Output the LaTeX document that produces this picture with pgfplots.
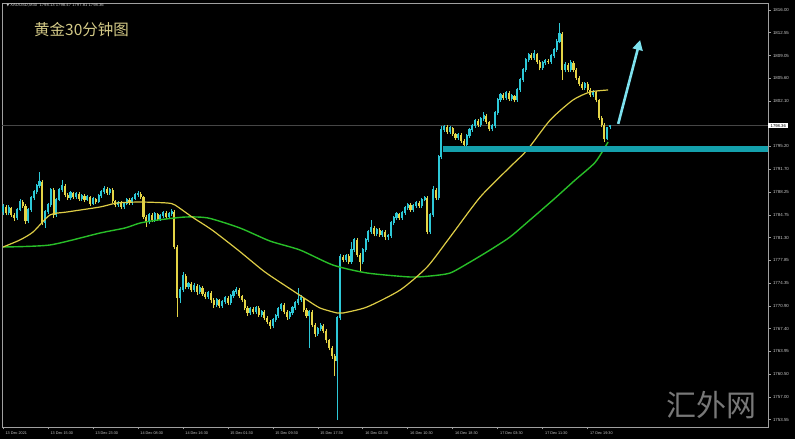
\documentclass[border=0pt]{standalone}
\usepackage{pgfplots}
\pgfplotsset{compat=1.18}
\usepackage{pgfplotstable}
\usepackage{fontspec}
\setmainfont{Liberation Sans}
\newfontfamily\cjk{Noto Sans CJK SC}
\newfontfamily\dejavu{DejaVu Sans}
\usetikzlibrary{arrows.meta}
\definecolor{bull}{RGB}{45,200,215}
\definecolor{bear}{RGB}{228,212,70}
\definecolor{maY}{RGB}{222,205,70}
\definecolor{maG}{RGB}{40,190,40}
\definecolor{band}{RGB}{20,160,172}
\definecolor{arrowc}{RGB}{125,225,238}
\definecolor{titlec}{RGB}{212,202,135}
\definecolor{axc}{RGB}{160,160,160}
\definecolor{labc}{RGB}{200,200,200}

\pgfplotstableread{
i o h l c
0 1785.20 1786.40 1784.80 1785.96
1 1785.96 1786.30 1784.70 1785.04
2 1785.04 1786.20 1784.70 1785.81
3 1785.81 1786.00 1784.40 1784.74
4 1784.74 1785.00 1783.80 1784.28
5 1784.28 1785.80 1784.00 1785.50
6 1785.50 1787.20 1785.30 1786.72
7 1786.72 1787.00 1785.80 1786.11
8 1786.11 1786.40 1783.40 1783.82
9 1783.82 1785.80 1783.50 1785.50
10 1785.50 1787.60 1785.20 1787.33
11 1787.33 1788.60 1787.00 1788.25
12 1788.25 1789.50 1787.90 1789.16
13 1789.16 1791.30 1788.90 1789.77
14 1789.77 1790.10 1783.20 1783.52
15 1783.52 1785.50 1782.76 1785.20
16 1785.20 1786.60 1784.90 1786.26
17 1786.26 1788.90 1786.00 1788.55
18 1788.55 1788.80 1784.30 1784.74
19 1784.74 1787.30 1784.50 1787.03
20 1787.03 1788.90 1786.80 1788.55
21 1788.55 1790.08 1788.30 1789.16
22 1789.16 1789.40 1787.50 1787.79
23 1787.79 1788.10 1787.00 1787.33
24 1787.33 1788.40 1787.10 1788.09
25 1788.09 1788.30 1787.20 1787.48
26 1787.48 1788.30 1787.20 1787.94
27 1787.94 1788.20 1786.90 1787.18
28 1787.18 1787.90 1786.90 1787.64
29 1787.64 1787.90 1786.70 1787.03
30 1787.03 1787.80 1786.80 1787.48
31 1787.48 1787.70 1786.10 1786.42
32 1786.42 1787.50 1786.20 1787.18
33 1787.18 1787.40 1786.40 1786.72
34 1786.72 1787.90 1786.50 1787.64
35 1787.64 1788.50 1787.40 1788.25
36 1788.25 1789.20 1788.00 1788.70
37 1788.70 1789.00 1787.80 1788.09
38 1788.09 1788.90 1787.80 1788.55
39 1788.55 1788.80 1786.60 1786.87
40 1786.87 1787.10 1785.90 1786.26
41 1786.26 1786.90 1786.00 1786.57
42 1786.57 1786.80 1785.60 1785.96
43 1785.96 1786.70 1785.70 1786.42
44 1786.42 1787.30 1786.20 1787.03
45 1787.03 1787.30 1786.30 1786.57
46 1786.57 1787.50 1786.30 1787.18
47 1787.18 1788.10 1787.00 1787.79
48 1787.79 1788.40 1787.50 1787.94
49 1787.94 1788.20 1787.20 1787.48
50 1787.48 1787.70 1784.10 1784.43
51 1784.43 1784.70 1782.90 1783.67
52 1783.67 1785.00 1783.40 1784.74
53 1784.74 1785.00 1783.60 1783.98
54 1783.98 1785.20 1783.70 1784.89
55 1784.89 1785.10 1783.80 1784.13
56 1784.13 1784.90 1783.90 1784.59
57 1784.59 1785.40 1784.30 1785.04
58 1785.04 1785.30 1784.10 1784.43
59 1784.43 1785.20 1784.20 1784.89
60 1784.89 1785.60 1784.60 1785.20
61 1785.20 1785.50 1779.50 1779.86
62 1779.86 1780.10 1769.19 1772.08
63 1772.08 1773.80 1771.30 1773.30
64 1773.30 1776.05 1773.00 1775.44
65 1775.44 1775.70 1773.40 1773.76
66 1773.76 1774.60 1773.40 1774.22
67 1774.22 1774.50 1773.00 1773.30
68 1773.30 1774.30 1773.00 1773.91
69 1773.91 1774.20 1772.60 1773.00
70 1773.00 1774.00 1772.70 1773.61
71 1773.61 1773.90 1772.40 1772.69
72 1772.69 1773.00 1771.90 1772.24
73 1772.24 1773.20 1771.90 1772.85
74 1772.85 1773.10 1771.40 1771.78
75 1771.78 1772.10 1770.60 1771.02
76 1771.02 1772.10 1770.70 1771.78
77 1771.78 1772.00 1770.50 1770.86
78 1770.86 1771.80 1770.60 1771.47
79 1771.47 1772.40 1771.20 1772.08
80 1772.08 1772.40 1771.00 1771.32
81 1771.32 1772.70 1771.00 1772.39
82 1772.39 1773.30 1772.10 1773.00
83 1773.00 1773.76 1772.70 1773.30
84 1773.30 1773.60 1772.10 1772.39
85 1772.39 1772.60 1771.50 1771.78
86 1771.78 1772.00 1770.20 1770.56
87 1770.56 1770.80 1769.40 1769.80
88 1769.80 1770.70 1769.50 1770.41
89 1770.41 1770.70 1769.60 1769.95
90 1769.95 1770.90 1769.70 1770.56
91 1770.56 1770.80 1769.20 1769.49
92 1769.49 1770.30 1769.20 1769.95
93 1769.95 1770.20 1768.70 1769.03
94 1769.03 1769.30 1768.10 1768.43
95 1768.43 1768.70 1767.36 1767.82
96 1767.82 1769.00 1767.50 1768.73
97 1768.73 1769.70 1768.50 1769.34
98 1769.34 1770.70 1769.10 1770.41
99 1770.41 1771.40 1770.10 1771.02
100 1771.02 1771.30 1769.60 1769.95
101 1769.95 1770.20 1768.80 1769.19
102 1769.19 1770.10 1768.90 1769.80
103 1769.80 1770.90 1769.50 1770.56
104 1770.56 1771.60 1770.30 1771.32
105 1771.32 1773.61 1771.00 1771.78
106 1771.78 1772.50 1771.50 1772.08
107 1772.08 1772.30 1769.90 1770.25
108 1770.25 1770.50 1769.00 1769.34
109 1769.34 1770.30 1764.46 1769.95
110 1769.95 1770.20 1767.60 1767.97
111 1767.97 1768.30 1766.20 1766.60
112 1766.60 1767.70 1766.30 1767.36
113 1767.36 1768.20 1767.00 1767.82
114 1767.82 1768.10 1766.70 1767.05
115 1767.05 1767.30 1765.30 1765.68
116 1765.68 1765.90 1764.10 1764.46
117 1764.46 1764.70 1762.80 1763.24
118 1763.24 1763.50 1760.19 1762.48
119 1762.48 1769.40 1753.48 1769.03
120 1769.03 1778.80 1768.70 1778.34
121 1778.34 1778.70 1777.50 1777.88
122 1777.88 1778.80 1777.60 1778.49
123 1778.49 1778.80 1777.20 1777.57
124 1777.57 1780.62 1777.30 1779.40
125 1779.40 1781.30 1779.10 1780.93
126 1780.93 1781.20 1778.30 1778.64
127 1778.64 1778.90 1776.05 1777.57
128 1777.57 1779.70 1777.20 1779.40
129 1779.40 1781.20 1779.10 1780.93
130 1780.93 1782.50 1780.60 1782.15
131 1782.15 1783.98 1781.90 1782.76
132 1782.76 1783.00 1781.50 1781.84
133 1781.84 1782.80 1781.50 1782.45
134 1782.45 1782.70 1781.40 1781.69
135 1781.69 1782.50 1781.40 1782.15
136 1782.15 1782.40 1781.00 1781.39
137 1781.39 1781.90 1780.90 1781.54
138 1781.54 1783.90 1781.30 1783.52
139 1783.52 1784.60 1783.20 1784.28
140 1784.28 1785.20 1784.00 1784.89
141 1784.89 1785.10 1784.00 1784.28
142 1784.28 1785.40 1784.00 1785.04
143 1785.04 1786.10 1784.80 1785.81
144 1785.81 1786.60 1785.50 1786.26
145 1786.26 1786.50 1785.20 1785.50
146 1785.50 1786.40 1785.20 1786.11
147 1786.11 1786.90 1785.80 1786.57
148 1786.57 1786.80 1785.80 1786.11
149 1786.11 1787.30 1785.80 1787.03
150 1787.03 1787.70 1786.80 1787.33
151 1787.33 1787.60 1781.80 1782.15
152 1782.15 1785.00 1781.90 1784.74
153 1784.74 1789.16 1784.50 1788.55
154 1788.55 1788.80 1787.00 1787.33
155 1787.33 1793.90 1787.00 1793.58
156 1793.58 1798.31 1793.30 1797.70
157 1797.70 1798.50 1797.40 1798.16
158 1798.16 1798.40 1797.10 1797.39
159 1797.39 1798.30 1797.10 1798.00
160 1798.00 1798.20 1796.80 1797.09
161 1797.09 1797.30 1796.20 1796.48
162 1796.48 1797.20 1796.20 1796.94
163 1796.94 1797.20 1795.70 1796.02
164 1796.02 1796.30 1794.95 1795.41
165 1795.41 1797.10 1795.20 1796.78
166 1796.78 1798.00 1796.50 1797.70
167 1797.70 1798.60 1797.40 1798.31
168 1798.31 1799.40 1798.00 1799.07
169 1799.07 1799.30 1798.20 1798.46
170 1798.46 1799.70 1798.20 1799.38
171 1799.38 1800.44 1799.10 1799.83
172 1799.83 1800.10 1798.60 1798.92
173 1798.92 1799.10 1797.50 1797.85
174 1797.85 1798.60 1797.50 1798.31
175 1798.31 1800.60 1798.00 1800.29
176 1800.29 1802.60 1800.00 1802.27
177 1802.27 1803.40 1802.00 1803.04
178 1803.04 1803.30 1802.30 1802.58
179 1802.58 1803.70 1802.30 1803.34
180 1803.34 1803.60 1802.10 1802.43
181 1802.43 1803.20 1802.10 1802.88
182 1802.88 1803.10 1801.90 1802.27
183 1802.27 1804.10 1802.00 1803.80
184 1803.80 1805.60 1803.50 1805.32
185 1805.32 1807.20 1805.00 1806.85
186 1806.85 1808.70 1806.60 1808.37
187 1808.37 1809.40 1808.10 1809.13
188 1809.13 1809.40 1808.40 1808.68
189 1808.68 1809.90 1808.40 1809.29
190 1809.29 1809.50 1807.80 1808.07
191 1808.07 1808.30 1806.80 1807.15
192 1807.15 1808.20 1806.90 1807.91
193 1807.91 1808.50 1807.60 1808.22
194 1808.22 1808.50 1807.80 1808.07
195 1808.07 1809.30 1807.80 1808.98
196 1808.98 1810.20 1808.70 1809.90
197 1809.90 1811.50 1809.60 1811.12
198 1811.12 1814.01 1810.90 1812.34
199 1812.34 1812.60 1805.32 1806.85
200 1806.85 1808.00 1806.50 1807.61
201 1807.61 1807.90 1806.50 1806.85
202 1806.85 1808.30 1806.60 1807.91
203 1807.91 1808.20 1806.50 1806.85
204 1806.85 1807.10 1805.30 1805.63
205 1805.63 1805.90 1804.40 1804.71
206 1804.71 1805.00 1803.80 1804.10
207 1804.10 1805.00 1803.80 1804.71
208 1804.71 1805.00 1803.50 1803.80
209 1803.80 1804.10 1802.70 1803.04
210 1803.04 1803.80 1802.70 1803.49
211 1803.49 1803.70 1801.90 1802.27
212 1802.27 1802.50 1799.20 1799.53
213 1799.53 1799.80 1798.10 1798.46
214 1798.46 1798.70 1795.87 1796.30
215 1796.30 1798.20 1796.10 1798.00
216 1798.13 1798.47 1797.81 1798.36
}\candles

\pgfplotstableread{
i p
0 1779.86
6.0 1780.93
10.7 1782.15
16.7 1784.74
22.8 1785.20
34.5 1785.96
40.6 1786.57
48.8 1786.72
58.4 1786.57
61.2 1786.26
67.3 1784.43
74.4 1782.45
83.6 1779.40
93.2 1776.05
102.8 1773.30
108.2 1771.78
112.8 1770.56
118.9 1769.80
121.0 1769.80
129.5 1770.71
141.3 1773.30
150.9 1776.81
159.1 1781.39
169.8 1787.48
180.4 1792.06
186.5 1794.65
194.7 1799.22
202.8 1802.27
208.9 1803.49
215.3 1803.80
}\maYellow

\pgfplotstableread{
i p
0 1779.86
16.7 1780.17
34.5 1781.99
43.4 1782.76
48.8 1783.52
55.2 1783.98
64.8 1784.43
73.0 1784.28
84.3 1782.76
95.0 1780.77
105.7 1779.40
117.4 1777.11
129.5 1775.90
144.8 1775.29
152.0 1775.44
159.1 1775.90
166.2 1777.57
173.3 1779.40
180.4 1781.39
187.5 1783.98
195.7 1787.03
203.6 1790.08
210.7 1792.77
215.3 1795.87
}\maGreen

\begin{document}
\begin{tikzpicture}[x=1pt,y=1pt]
\fill[black] (0,0) rectangle (795,439);
\begin{axis}[
  at={(2pt,12pt)}, anchor=south west,
  scale only axis, width=766pt, height=424pt,
  xmin=-0.356, xmax=272.2, ymin=1752.42, ymax=1817.06,
  clip mode=individual,
  axis line style={draw=axc, line width=0.6pt},
  tick style={draw=axc, line width=0.5pt},
  tick align=outside, major tick length=2.5pt,
  xtick pos=left, ytick pos=right,
  yticklabel pos=right,
  /pgf/number format/assume math mode=true,
  ytick={1753.55,1757.00,1760.50,1763.95,1767.40,1770.90,1774.35,1777.85,1781.30,1784.75,1788.25,1791.70,1795.20,1802.10,1805.60,1809.05,1812.55,1816.00},
  yticklabels={1753.55,1757.00,1760.50,1763.95,1767.40,1770.90,1774.35,1777.85,1781.30,1784.75,1788.25,1791.70,1795.20,1802.10,1805.60,1809.05,1812.55,1816.00},
  yticklabel style={font=\fontsize{4.4}{5}\selectfont, text=labc, anchor=west, xshift=-1pt},
  xtick={0,16,32,48,64,80,96,112,128,144,160,176,192,208},
  xticklabels={13 Dec 2021,13 Dec 15:30,13 Dec 23:30,14 Dec 08:30,14 Dec 16:30,15 Dec 01:30,15 Dec 09:30,15 Dec 17:30,16 Dec 02:30,16 Dec 10:30,16 Dec 18:30,17 Dec 03:30,17 Dec 11:30,17 Dec 19:30},
  xticklabel style={font=\fontsize{3.8}{4.5}\selectfont, text=labc, anchor=north west, xshift=-1pt, yshift=1pt},
]
% current price line
\addplot[draw={rgb,255:red,70;green,70;blue,70}, line width=0.6pt, forget plot] coordinates {(-0.356,1798.36) (272.2,1798.36)};
% wicks
\addplot[draw=none, mark=none, forget plot,
  restrict expr to domain={\thisrow{c}-\thisrow{o}}{0:1000},
  error bars/.cd, y dir=plus, y explicit, error mark=none,
  error bar style={draw=bull, line width=0.6pt}]
  table[x=i, y=l, y error expr=\thisrow{h}-\thisrow{l}] {\candles};
\addplot[draw=none, mark=none, forget plot,
  restrict expr to domain={\thisrow{c}-\thisrow{o}}{-1000:-0.001},
  error bars/.cd, y dir=plus, y explicit, error mark=none,
  error bar style={draw=bear, line width=0.6pt}]
  table[x=i, y=l, y error expr=\thisrow{h}-\thisrow{l}] {\candles};
% bodies
\addplot[draw=none, mark=none, forget plot,
  restrict expr to domain={\thisrow{c}-\thisrow{o}}{0:1000},
  error bars/.cd, y dir=plus, y explicit, error mark=none,
  error bar style={draw=bull, line width=2.1pt}]
  table[x=i, y=o, y error expr=\thisrow{c}-\thisrow{o}+0.12] {\candles};
\addplot[draw=none, mark=none, forget plot,
  restrict expr to domain={\thisrow{c}-\thisrow{o}}{-1000:-0.001},
  error bars/.cd, y dir=plus, y explicit, error mark=none,
  error bar style={draw=bear, line width=2.1pt}]
  table[x=i, y=c, y error expr=\thisrow{o}-\thisrow{c}] {\candles};
% moving averages
\addplot[draw=maG, line width=1.4pt, smooth, tension=0.4] table[x=i, y=p] {\maGreen};
\addplot[draw=maY, line width=1.2pt, smooth, tension=0.4] table[x=i, y=p] {\maYellow};
% support band
\addplot[draw=band, line width=6pt] coordinates {(156.6,1794.73) (272.2,1794.73)};
% arrow
\addplot[draw=arrowc, line width=2.6pt, -{Triangle[width=10pt,length=10pt]}] coordinates {(218.9,1798.63) (226.7,1811.42)};
\node[fill=white, text=black, inner xsep=2.5pt, inner ysep=1.2pt, anchor=west, font=\fontsize{4.2}{4.5}\selectfont] at (axis cs:272.2,1798.36) {1798.36};
\end{axis}
\node[anchor=west, text=labc, font=\fontsize{4.2}{5}\selectfont] at (3,434) {{\dejavu\fontsize{3.5}{4}\selectfont ▼}\ XAUUSD,M30\ \ 1798.13 1798.47 1797.81 1798.36};
\node[anchor=west, text=titlec, font=\cjk\fontsize{15.5}{17}\selectfont, inner sep=0pt] at (34,409) {黄金30分钟图};
\node[anchor=center, text={rgb,255:red,120;green,120;blue,120}, font=\cjk\fontsize{30}{32}\selectfont, inner sep=0pt] at (711,34) {汇外网};
\pgfresetboundingbox
\useasboundingbox (0,0) rectangle (795,439);
\end{tikzpicture}
\end{document}
